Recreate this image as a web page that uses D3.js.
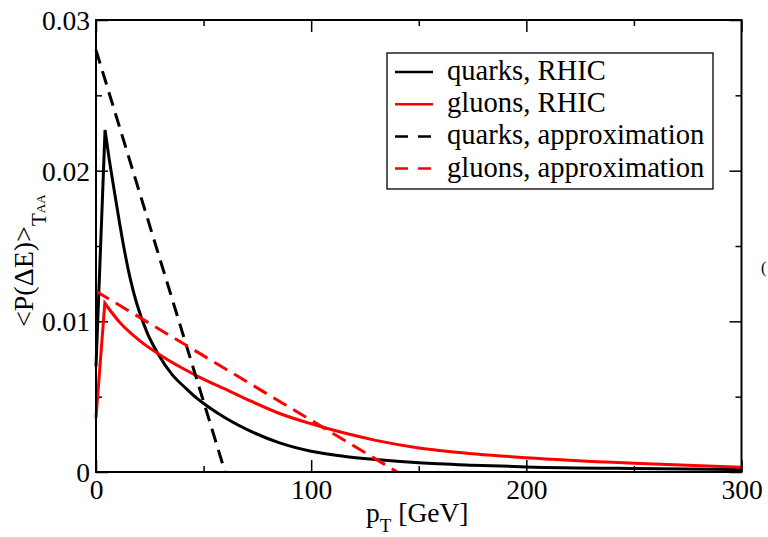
<!DOCTYPE html>
<html>
<head>
<meta charset="utf-8">
<script src="https://cdn.jsdelivr.net/npm/d3@7"></script>
<style>
  body { margin: 0; background: #fff; }
  svg { display: block; }
</style>
</head>
<body>
<svg id="chart" width="768" height="537"></svg>
<script>
// values
const QUARK_RHIC_PT = [0, 4.2, 6.2, 8, 10.4, 12.7, 15.8, 18.9, 23.6, 29, 35.2, 42.2, 46.8, 51.5, 60, 72, 85, 100, 115, 130, 150, 175, 200, 250, 300];
const QUARK_RHIC_P = [0.0070, 0.0227, 0.0207, 0.0191, 0.0170, 0.0151, 0.0129, 0.0112, 0.0093, 0.0078, 0.0065, 0.0055, 0.0049, 0.0044, 0.0036, 0.0027, 0.00195, 0.00138, 0.00105, 0.00083, 0.00061, 0.00045, 0.00034, 0.00023, 0.00017];

const GLUON_RHIC_PT = [0, 4.1, 11.2, 20.4, 30.5, 40, 48, 61.5, 72, 85, 100, 115, 130, 150, 165, 200, 250, 300];
const GLUON_RHIC_P = [0.0036, 0.0112, 0.0099, 0.0087, 0.0077, 0.0069, 0.0063, 0.0054, 0.0047, 0.0039, 0.0032, 0.0026, 0.0021, 0.0016, 0.00135, 0.00095, 0.00058, 0.00032];

const QUARK_APPROX_PT = [0, 60];
const QUARK_APPROX_P = [0.028, 0];
const GLUON_APPROX_PT = [0, 140];
const GLUON_APPROX_P = [0.012, 0];

const X_TICKS = [0, 100, 200, 300];
const X_MINOR = [50, 150, 250];
const Y_TICKS = [0, 0.01, 0.02, 0.03];
const Y_MINOR = [0.005, 0.015, 0.025];
const Y_TICK_LABELS = ['0', '0.01', '0.02', '0.03'];

const LEGEND_LABELS = ['quarks, RHIC', 'gluons, RHIC', 'quarks, approximation', 'gluons, approximation'];

const SVG_ITEM = d3.select('#chart');
const LEFT = 96, RIGHT = 741.5, TOP = 20, BOTTOM = 472;
const FONT = 27.5;
const FAMILY = 'Liberation Serif';

const xScale = d3.scaleLinear().domain([0, 300]).range([LEFT, RIGHT]);
const yScale = d3.scaleLinear().domain([0, 0.03]).range([BOTTOM, TOP]);

const series = [
    { pt: QUARK_RHIC_PT, p: QUARK_RHIC_P, color: '#000', dash: null, peak: true },
    { pt: GLUON_RHIC_PT, p: GLUON_RHIC_P, color: '#ff0000', dash: null, peak: true },
    { pt: QUARK_APPROX_PT, p: QUARK_APPROX_P, color: '#000', dash: '14,8' },
    { pt: GLUON_APPROX_PT, p: GLUON_APPROX_P, color: '#ff0000', dash: '15,8' }
];

function styleAxis(g) {
    g.attr('font-family', FAMILY).attr('font-size', null);
    g.select('.domain').remove();
    g.selectAll('line').attr('stroke', '#000').attr('stroke-width', 1.5);
    g.selectAll('text').attr('font-size', FONT).attr('font-family', FAMILY).attr('fill', '#000');
}

// major ticks with labels, inward
SVG_ITEM.append('g').attr('transform', 'translate(0,' + BOTTOM + ')')
    .call(d3.axisBottom(xScale).tickValues(X_TICKS).tickSize(-12).tickFormat(d3.format('d')))
    .call(styleAxis)
    .call((g) => g.selectAll('text').attr('y', 27).attr('dy', null));
SVG_ITEM.append('g').attr('transform', 'translate(' + LEFT + ',0)')
    .call(d3.axisLeft(yScale).tickValues(Y_TICKS).tickSize(-12).tickPadding(6).tickFormat((d, i) => Y_TICK_LABELS[i]))
    .call(styleAxis)
    .call((g) => g.selectAll('text').attr('dy', '0.35em'));
SVG_ITEM.append('g').attr('transform', 'translate(0,' + TOP + ')')
    .call(d3.axisTop(xScale).tickValues(X_TICKS).tickSize(-12).tickFormat(''))
    .call(styleAxis);
SVG_ITEM.append('g').attr('transform', 'translate(' + RIGHT + ',0)')
    .call(d3.axisRight(yScale).tickValues(Y_TICKS).tickSize(-12).tickFormat(''))
    .call(styleAxis);

// minor ticks
SVG_ITEM.append('g').attr('transform', 'translate(0,' + BOTTOM + ')')
    .call(d3.axisBottom(xScale).tickValues(X_MINOR).tickSize(-6).tickFormat('')).call(styleAxis);
SVG_ITEM.append('g').attr('transform', 'translate(0,' + TOP + ')')
    .call(d3.axisTop(xScale).tickValues(X_MINOR).tickSize(-6).tickFormat('')).call(styleAxis);
SVG_ITEM.append('g').attr('transform', 'translate(' + LEFT + ',0)')
    .call(d3.axisLeft(yScale).tickValues(Y_MINOR).tickSize(-6).tickFormat('')).call(styleAxis);
SVG_ITEM.append('g').attr('transform', 'translate(' + RIGHT + ',0)')
    .call(d3.axisRight(yScale).tickValues(Y_MINOR).tickSize(-6).tickFormat('')).call(styleAxis);

// curves: straight rise to the peak, smooth fall after it
const straight = d3.line().x((d) => xScale(d[0])).y((d) => yScale(d[1]));
const smooth = d3.line().x((d) => xScale(d[0])).y((d) => yScale(d[1])).curve(d3.curveMonotoneX);
series.forEach((s) => {
    const pts = s.pt.map((v, i) => [v, s.p[i]]);
    let d = straight(pts);
    if (s.peak) {
        const k = d3.maxIndex(pts, (p) => p[1]);
        d = straight(pts.slice(0, k + 1)) + smooth(pts.slice(k)).replace(/^M/, 'L');
    }
    SVG_ITEM.append('path')
        .attr('d', d)
        .attr('fill', 'none')
        .attr('stroke', s.color)
        .attr('stroke-width', 3)
        .attr('stroke-dasharray', s.dash);
});

// frame
SVG_ITEM.append('rect')
    .attr('x', LEFT).attr('y', TOP)
    .attr('width', RIGHT - LEFT).attr('height', BOTTOM - TOP)
    .attr('fill', 'none').attr('stroke', '#000').attr('stroke-width', 2);

// legend
const legend = SVG_ITEM.append('g');
legend.append('rect')
    .attr('x', 387).attr('y', 53).attr('width', 326).attr('height', 136)
    .attr('fill', '#fff').attr('stroke', '#000').attr('stroke-width', 1.3);
LEGEND_LABELS.forEach((label, i) => {
    const y = 72 + i * 32.2;
    legend.append('line')
        .attr('x1', 395).attr('x2', 433).attr('y1', y).attr('y2', y)
        .attr('stroke', series[i].color).attr('stroke-width', 2.5)
        .attr('stroke-dasharray', series[i].dash ? '13,10' : null);
    legend.append('text')
        .attr('x', 447).attr('y', y + 8)
        .attr('font-family', FAMILY)
        .attr('font-size', 28.6)
        .text(label);
});

// axis titles
const xTitle = SVG_ITEM.append('text').attr('x', 366).attr('y', 522)
    .attr('font-family', FAMILY).attr('font-size', FONT);
xTitle.append('tspan').text('p');
xTitle.append('tspan').attr('font-size', 19).attr('dy', 10).text('T');
xTitle.append('tspan').attr('dy', -10).text(' [GeV]');

const yTitle = SVG_ITEM.append('text')
    .attr('transform', 'translate(33,327) rotate(-90)')
    .attr('font-family', FAMILY).attr('font-size', 28);
yTitle.append('tspan').text('<P(\u0394E)>');
yTitle.append('tspan').attr('font-size', 21).attr('dy', 13).text('T');
yTitle.append('tspan').attr('font-size', 13).attr('dy', -1).text('AA');

// edge of the neighbouring panel
SVG_ITEM.append('text')
    .attr('x', 761).attr('y', 273)
    .attr('font-family', FAMILY).attr('font-size', 16)
    .text('(');
</script>
</body>
</html>
